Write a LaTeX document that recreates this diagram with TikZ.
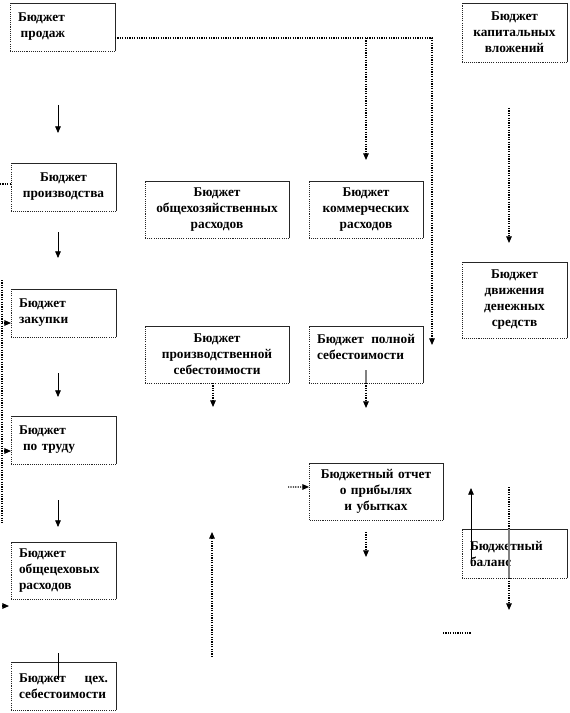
\documentclass[tikz,border=0pt]{standalone}
\usepackage{fontspec}
\setmainfont{Liberation Serif}
\usetikzlibrary{arrows.meta}

\begin{document}
\begin{tikzpicture}[
    x=0.75pt, y=-0.75pt,
    font=\fontsize{10}{12}\selectfont\bfseries,
    budget/.style={
        rectangle, anchor=north west, inner xsep=6pt, inner ysep=0pt, outer sep=0pt,
        text width=66.75pt, minimum height=36pt, align=center,
        append after command={
            (\tikzlastnode.north west) edge[frame] (\tikzlastnode.north east)
            (\tikzlastnode.north east) edge[frame] (\tikzlastnode.south east)
            (\tikzlastnode.south east) edge[frame, dash pattern=on 0.8pt off 0.8pt] (\tikzlastnode.south west)
            (\tikzlastnode.south west) edge[frame, dash pattern=on 0.8pt off 0.8pt] (\tikzlastnode.north west)}
    },
    frame/.style={-, draw=black!85, line width=0.7pt},
    solidarrow/.style={-{Triangle[length=5pt,width=4.2pt]}, line width=0.6pt, black},
    dotarrow/.style={-{Triangle[length=5pt,width=4.2pt]}, dash pattern=on 0.9pt off 0.9pt, line width=0.8pt, black},
    dotline/.style={dash pattern=on 0.9pt off 0.9pt, line width=0.8pt, black},
    inner/.style={gray, line width=0.9pt}
]
\useasboundingbox (0,0) rectangle (570,713);

\node[budget, align=left] (prod) at (10,3) {Бюджет\\\hspace{2pt}продаж};
\node[budget, minimum height=44.25pt] (kap) at (462,3) {Бюджет\\капитальных\\вложений};
\node[budget] (proizv) at (11,163) {Бюджет\\производства};
\node[budget, text width=96pt, minimum height=42.75pt] (obshch) at (145,181) {Бюджет\\общехозяйственных\\расходов};
\node[budget, text width=73.5pt, minimum height=42.75pt] (komm) at (309,181) {Бюджет\\коммерческих\\расходов};
\node[budget, align=left] (zakup) at (11,289) {Бюджет\\закупки};
\node[budget, text width=96pt, minimum height=42.75pt] (proizvseb) at (145,326) {Бюджет\\производственной\\себестоимости};
\node[budget, text width=73.5pt, minimum height=42.75pt, align=left] (polnseb) at (309,326) {Бюджет\hfill полной\\себестоимости\\\mbox{}};
\node[budget, minimum height=57pt] (dvizh) at (462,262) {Бюджет\\движения\\денежных\\средств};
\node[budget, align=left] (trud) at (11,416) {Бюджет\\\hspace{3pt}по труду};
\node[budget, text width=88.5pt, minimum height=42.75pt] (otchet) at (309,463) {Бюджетный отчет\\о прибылях\\и убытках};
\node[budget, minimum height=36.75pt, align=left] (balans) at (462,529) {Бюджетный\\баланс};
\node[budget, minimum height=42.75pt, align=left] (obshcheh) at (11,542) {Бюджет\\общецеховых\\расходов};
\node[budget, align=left] (tsekh) at (11,662) {Бюджет\hfill цех.\\себестоимости};

% free ends of the connectors
\coordinate (prodOut) at (58,105);
\coordinate (proizvIn) at (58,133);
\coordinate (proizvOut) at (58,232);
\coordinate (zakupIn) at (58,258);
\coordinate (zakupOut) at (58,373);
\coordinate (trudIn) at (58,397);
\coordinate (trudOut) at (58,500);
\coordinate (obshchehIn) at (58,527);
\coordinate (tsekhTop) at (58,653);
\coordinate (tsekhMid) at (58,680);
\coordinate (salesIn) at (432,345);
\coordinate (kommTop) at (366,38);
\coordinate (kommIn) at (366,160);
\coordinate (kapOut) at (509,108);
\coordinate (dvizhIn) at (509,243);
\coordinate (proizvsebOut) at (213,407);
\coordinate (polnsebMid) at (366,370);
\coordinate (polnsebOut) at (366,408);
\coordinate (otchetIn) at (288,487);
\coordinate (otchetOut) at (366,532);
\coordinate (otchetEnd) at (366,557);
\coordinate (costLow) at (212,657);
\coordinate (costUp) at (212,532);
\coordinate (balansLow) at (471,566);
\coordinate (balansUp) at (471,488);
\coordinate (balansTop) at (509,487);
\coordinate (balansEnd) at (509,610);
\coordinate (tailA) at (443,633);
\coordinate (tailB) at (471,633);
\coordinate (leftA) at (0,184);
\coordinate (leftTop) at (2,280);
\coordinate (leftBot) at (2,523);
\coordinate (leftZ) at (2,323);
\coordinate (leftT) at (2,451);
\coordinate (leftO) at (2,606);
\coordinate (leftOe) at (9,606);

% left column
\draw[solidarrow] (prodOut) -- (proizvIn);
\draw[solidarrow] (proizvOut) -- (zakupIn);
\draw[solidarrow] (zakupOut) -- (trudIn);
\draw[solidarrow] (trudOut) -- (obshchehIn);
\draw[black, line width=0.6pt] (tsekhTop) -- (tsekhMid);
\draw[dotline] (leftA) -- ([yshift=2.25pt]proizv.west);
\draw[dotline] (leftTop) -- (leftBot);
\draw[dotarrow] (leftZ) -- (leftZ -| zakup.west);
\draw[dotarrow] (leftT) -- (leftT -| trud.west);
\draw[dotarrow] (leftO) -- (leftOe);

% sales and the middle
\draw[dotarrow] ([yshift=-8.25pt]prod.east) -| (salesIn);
\draw[dotarrow] (kommTop) -- (kommIn);
\draw[dotarrow] ([xshift=-3pt]proizvseb.south) -- (proizvsebOut);
\draw[inner] (polnsebMid) -- (polnseb.south);
\draw[dotarrow] (polnseb.south) -- (polnsebOut);
\draw[dotarrow] (otchetIn) -- ([yshift=3.4pt]otchet.west);
\draw[dotarrow] (otchetOut) -- (otchetEnd);
\draw[dotarrow] (costLow) -- (costUp);

% right column
\draw[dotarrow] (kapOut) -- (dvizhIn);
\draw[solidarrow] (balansLow) -- (balansUp);
\draw[dotarrow] (balansTop) -- (balansEnd);
\draw[inner] ([xshift=-4.1pt]balans.north) -- ([xshift=-4.1pt]balans.south);
\draw[dotline] (tailA) -- (tailB);
\end{tikzpicture}
\end{document}
